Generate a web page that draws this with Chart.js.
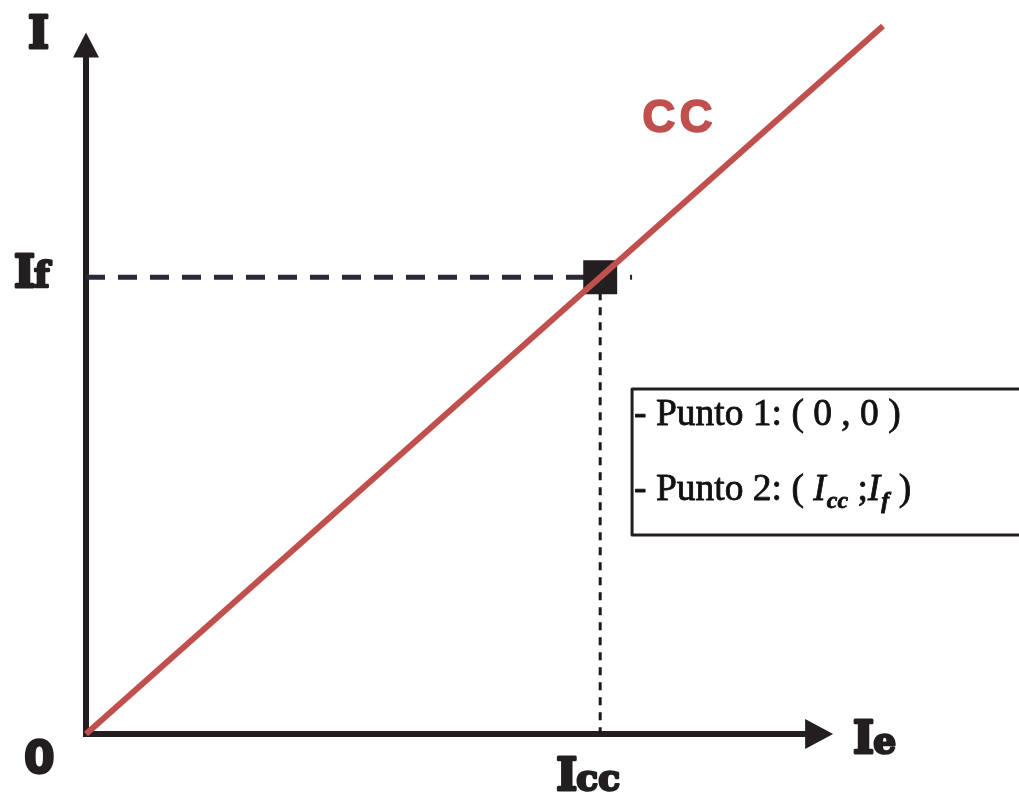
<!DOCTYPE html>
<html>
<head>
<meta charset="utf-8">
<script src="https://cdn.jsdelivr.net/npm/chart.js@4"></script>
<style>
  html, body { margin: 0; padding: 0; background: #fff; }
  #wrap { width: 1019px; height: 798px; }
</style>
</head>
<body>
<div id="wrap"><canvas id="ChartCC"></canvas></div>
<script>
// recta CC que pasa por el origen y por (Icc ; If)
var lineaX = [0, 1.55];
var lineaY = [0, 1.55];
var puntoX = [1.0];
var puntoY = [1.0];
// lineas de referencia punteadas
var horizX = [0, 1.062];
var horizY = [1.0, 1.0];
var vertX = [1.0, 1.0];
var vertY = [1.0, 0];
// textos
var ejeLabels = ['I', 'Ie'];
var marcaLabels = ['0', 'Icc', 'If'];
var serieLabel = 'CC';
var cuadroTextos = ['- Punto 1: ( 0 , 0 )', '- Punto 2: ('];

function pares(xs, ys) {
    return xs.map(function(x, i){ return {x: x, y: ys[i]}; });
}

var NEGRO = '#231f20';
var ROJO = '#c0504d';

// texto grueso: relleno + trazo para imitar la letra pesada del original
function textoGrueso(ctx, txt, x, y, grosor) {
    ctx.lineWidth = grosor;
    ctx.lineJoin = 'round';
    ctx.strokeText(txt, x, y);
    ctx.fillText(txt, x, y);
}

var dibujoExtra = {
    id: 'dibujoExtra',
    beforeDatasetsDraw: function(chart) {
        var ctx = chart.ctx;
        var xs = chart.scales.x, ys = chart.scales.y;
        var x0 = xs.getPixelForValue(0), y0 = ys.getPixelForValue(0);
        var xTip = xs.getPixelForValue(1.453), yTip = ys.getPixelForValue(1.536);
        ctx.save();
        ctx.strokeStyle = NEGRO;
        ctx.fillStyle = NEGRO;
        ctx.lineWidth = 6;
        ctx.lineCap = 'butt';
        // eje y
        ctx.beginPath();
        ctx.moveTo(x0, y0 + 3);
        ctx.lineTo(x0, yTip + 24);
        ctx.stroke();
        ctx.beginPath();
        ctx.moveTo(x0, yTip);
        ctx.lineTo(x0 - 13, yTip + 25);
        ctx.lineTo(x0 + 13, yTip + 25);
        ctx.closePath();
        ctx.fill();
        // eje x
        ctx.beginPath();
        ctx.moveTo(x0 - 3, y0);
        ctx.lineTo(xTip - 26, y0);
        ctx.stroke();
        ctx.beginPath();
        ctx.moveTo(xTip, y0);
        ctx.lineTo(xTip - 28, y0 - 15);
        ctx.lineTo(xTip - 28, y0 + 15);
        ctx.closePath();
        ctx.fill();
        ctx.restore();
    },
    afterDatasetsDraw: function(chart) {
        var ctx = chart.ctx;
        var xs = chart.scales.x, ys = chart.scales.y;
        var x0 = xs.getPixelForValue(0), y0 = ys.getPixelForValue(0);
        var xTip = xs.getPixelForValue(1.453), yTip = ys.getPixelForValue(1.536);
        var xIcc = xs.getPixelForValue(puntoX[0]), yIf = ys.getPixelForValue(puntoY[0]);
        ctx.save();
        ctx.fillStyle = NEGRO;
        ctx.strokeStyle = NEGRO;
        ctx.textBaseline = 'alphabetic';
        ctx.textAlign = 'left';
        ctx.font = 'bold 45px "DejaVu Serif"';
        var wI = ctx.measureText('I').width;
        textoGrueso(ctx, ejeLabels[0], x0 - 58, yTip + 16, 3);
        textoGrueso(ctx, ejeLabels[1].charAt(0), xTip + 20, y0 + 19, 3);
        textoGrueso(ctx, marcaLabels[2].charAt(0), x0 - 72, yIf + 10, 3);
        textoGrueso(ctx, marcaLabels[1].charAt(0), xIcc - 44, y0 + 56, 3);
        ctx.font = 'bold 36px "DejaVu Serif"';
        textoGrueso(ctx, ejeLabels[1].substring(1), xTip + 20 + wI - 1, y0 + 19, 2.5);
        textoGrueso(ctx, marcaLabels[2].substring(1), x0 - 72 + wI - 1, yIf + 10, 2.5);
        textoGrueso(ctx, marcaLabels[1].substring(1), xIcc - 44 + wI - 1, y0 + 56, 2.5);
        ctx.font = 'bold 44px "DejaVu Sans"';
        textoGrueso(ctx, marcaLabels[0], x0 - 62, y0 + 39, 2.5);

        // etiqueta CC
        ctx.fillStyle = ROJO;
        ctx.strokeStyle = ROJO;
        ctx.font = 'bold 46px "Liberation Sans"';
        ctx.letterSpacing = '4px';
        textoGrueso(ctx, serieLabel, xs.getPixelForValue(1.082), ys.getPixelForValue(1.317), 1.5);
        ctx.letterSpacing = '0px';

        // cuadro de puntos
        var bx = xs.getPixelForValue(horizX[1]);
        ctx.strokeStyle = NEGRO;
        ctx.lineWidth = 3;
        ctx.strokeRect(bx, 389, chart.width, 146);
        ctx.fillStyle = '#111';
        ctx.strokeStyle = '#111';
        ctx.font = '37.5px "Liberation Serif"';
        textoGrueso(ctx, cuadroTextos[0], bx + 2, 425, 0.8);
        var partes = [
            [cuadroTextos[1] + ' ', '37.5px "Liberation Serif"', 0],
            ['I', 'italic 37.5px "Liberation Serif"', 0],
            ['cc', 'italic bold 24px "Liberation Serif"', 8],
            [' ;', '37.5px "Liberation Serif"', 0],
            ['I', 'italic 37.5px "Liberation Serif"', 0],
            ['f', 'italic bold 24px "Liberation Serif"', 8],
            [' )', '37.5px "Liberation Serif"', 0]
        ];
        var px = bx + 2;
        partes.forEach(function(p){
            ctx.font = p[1];
            textoGrueso(ctx, p[0], px, 500 + p[2], 0.8);
            px += ctx.measureText(p[0]).width + (p[0] === 'I' ? 1 : 0);
        });
        ctx.restore();
    }
};

var ctxL = document.getElementById('ChartCC').getContext('2d');
var graficoCC = new Chart(ctxL, {
    type: 'scatter',
    data: {
        datasets: [{
            label: serieLabel,
            data: pares(lineaX, lineaY),
            showLine: true,
            borderColor: ROJO,
            borderWidth: 6,
            pointRadius: 0,
            order: 1
        }, {
            label: 'Punto',
            data: pares(puntoX, puntoY),
            pointStyle: 'rect',
            pointRadius: 24,
            pointBackgroundColor: NEGRO,
            pointBorderColor: NEGRO,
            pointBorderWidth: 0,
            order: 2
        }, {
            label: 'If',
            data: pares(horizX, horizY),
            showLine: true,
            borderColor: '#2b2838',
            borderWidth: 5,
            borderDash: [19, 13],
            pointRadius: 0,
            order: 3
        }, {
            label: 'Icc',
            data: pares(vertX, vertY),
            showLine: true,
            borderColor: '#1a1a1a',
            borderWidth: 3,
            borderDash: [8, 7],
            pointRadius: 0,
            order: 3
        }]
    },
    options: {
        responsive: true,
        maintainAspectRatio: false,
        animation: false,
        layout: { padding: { left: 86, right: 136, top: 26, bottom: 64 } },
        scales: {
            x: { type: 'linear', min: 0, max: 1.55, display: false },
            y: { type: 'linear', min: 0, max: 1.55, display: false }
        },
        plugins: {
            legend: { display: false },
            tooltip: { enabled: false }
        },
        clip: false
    },
    plugins: [dibujoExtra]
});
</script>
</body>
</html>
